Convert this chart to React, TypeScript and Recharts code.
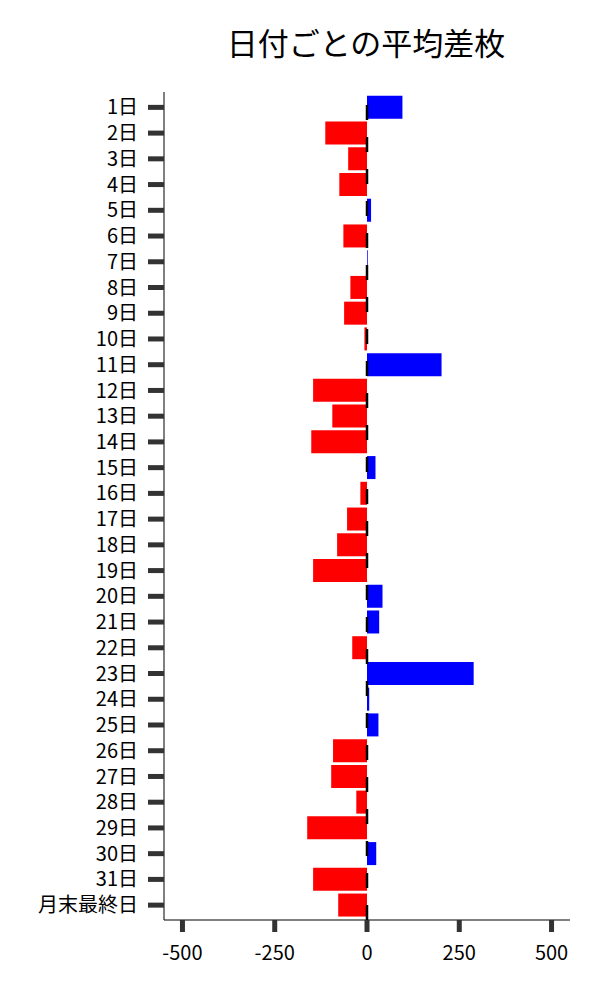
import React from 'react';
import { BarChart, Bar, XAxis, YAxis, Cell, ReferenceLine } from 'recharts';

const days = [
  '1日', '2日', '3日', '4日', '5日', '6日', '7日', '8日', '9日', '10日',
  '11日', '12日', '13日', '14日', '15日', '16日', '17日', '18日', '19日', '20日',
  '21日', '22日', '23日', '24日', '25日', '26日', '27日', '28日', '29日', '30日',
  '31日', '月末最終日',
];

const avgDiff = [
  96, -113, -51, -75, 11, -64, 2, -45, -62, -7,
  202, -146, -94, -151, 23, -18, -54, -81, -146, 42,
  33, -40, 289, 6, 31, -92, -97, -29, -162, 25,
  -146, -78,
];

const xTicks = [-500, -250, 0, 250, 500];

const data = days.map((day, i) => ({ day, value: avgDiff[i] }));

const font = '"Noto Sans CJK JP", "Noto Sans", sans-serif';

export default function App() {
  return (
    <div style={{ position: 'absolute', left: 0, top: 0, width: 600, height: 1000, background: '#fff', fontFamily: font }}>
      <div
        style={{
          position: 'absolute',
          left: 166,
          width: 400,
          top: 20,
          textAlign: 'center',
          fontSize: 31,
          lineHeight: '44px',
          color: '#000',
        }}
      >
        日付ごとの平均差枚
      </div>
      <BarChart
        width={600}
        height={1000}
        data={data}
        layout="vertical"
        margin={{ top: 92, right: 30, bottom: 0, left: 0 }}
        barCategoryGap="5%"
      >
        <XAxis
          type="number"
          domain={[-550, 550]}
          ticks={xTicks}
          height={80}
          tickSize={12}
          tickMargin={14}
          axisLine={{ stroke: '#000', strokeWidth: 1 }}
          tickLine={{ stroke: '#333', strokeWidth: 5 }}
          tick={{ fill: '#000', fontSize: 20, fontFamily: font }}
          allowDataOverflow
        />
        <YAxis
          type="category"
          dataKey="day"
          width={164}
          interval={0}
          tickSize={16}
          tickMargin={10}
          padding={{ top: 2.5, bottom: 2 }}
          axisLine={{ stroke: '#000', strokeWidth: 1 }}
          tickLine={{ stroke: '#333', strokeWidth: 5 }}
          tick={{ fill: '#000', fontSize: 20, fontFamily: font }}
        />
        <Bar dataKey="value" isAnimationActive={false}>
          {data.map((d) => (
            <Cell key={d.day} fill={d.value >= 0 ? '#0000ff' : '#ff0000'} />
          ))}
        </Bar>
        <ReferenceLine x={0} stroke="#000" strokeWidth={2.5} strokeDasharray="15 17" />
      </BarChart>
    </div>
  );
}
